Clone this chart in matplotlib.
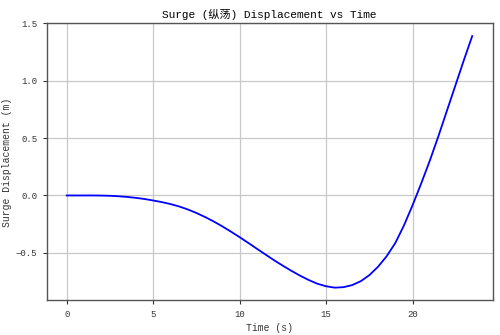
import matplotlib
matplotlib.use("Agg")
import matplotlib.pyplot as plt

# surge displacement (time in s, displacement in m)
time_s = [0, 0.5, 1, 1.5, 2, 2.5, 3, 3.5, 4, 4.5, 5, 5.5, 6, 6.5, 7, 7.5, 8,
          8.5, 9, 9.5, 10, 10.5, 11, 11.5, 12, 12.5, 13, 13.5, 14, 14.5, 15,
          15.5, 16, 16.5, 17, 17.5, 18, 18.5, 19, 19.5, 20, 20.5, 21, 21.5,
          22, 22.5, 23, 23.45]
surge_m = [0.0, 0.0, 0.0, 0.0, -0.001, -0.003, -0.007, -0.013, -0.021, -0.031,
           -0.044, -0.058, -0.075, -0.096, -0.122, -0.153, -0.188, -0.227,
           -0.270, -0.316, -0.364, -0.414, -0.465, -0.516, -0.566, -0.613,
           -0.658, -0.700, -0.738, -0.770, -0.792, -0.804, -0.800, -0.782,
           -0.748, -0.695, -0.622, -0.530, -0.415, -0.262, -0.085, 0.105,
           0.305, 0.520, 0.745, 0.970, 1.195, 1.39]

plt.rcParams['font.family'] = ['Liberation Mono', 'Noto Sans CJK SC', 'DejaVu Sans']

fig, ax = plt.subplots(figsize=(5, 3.35), dpi=100)
fig.subplots_adjust(left=0.093, right=0.985, top=0.930, bottom=0.103)

ax.plot(time_s, surge_m, color='blue', linewidth=1.3)
ax.set_ylim(-0.916, 1.5)
ax.grid(True, color='#c8c8c8', linewidth=0.9)
ax.set_axisbelow(True)

ax.set_title("Surge (纵荡) Displacement vs Time", fontsize=8, pad=4)
ax.set_xlabel("Time (s)", fontsize=7, color='#333333', labelpad=3)
ax.set_ylabel("Surge Displacement (m)", fontsize=7, color='#333333', labelpad=3)
ax.tick_params(labelsize=6.5, colors='#333333', length=3, width=0.8)
for sp in ax.spines.values():
    sp.set_color('#555555')
    sp.set_linewidth(1.0)

fig.savefig("out.png", dpi=100)
